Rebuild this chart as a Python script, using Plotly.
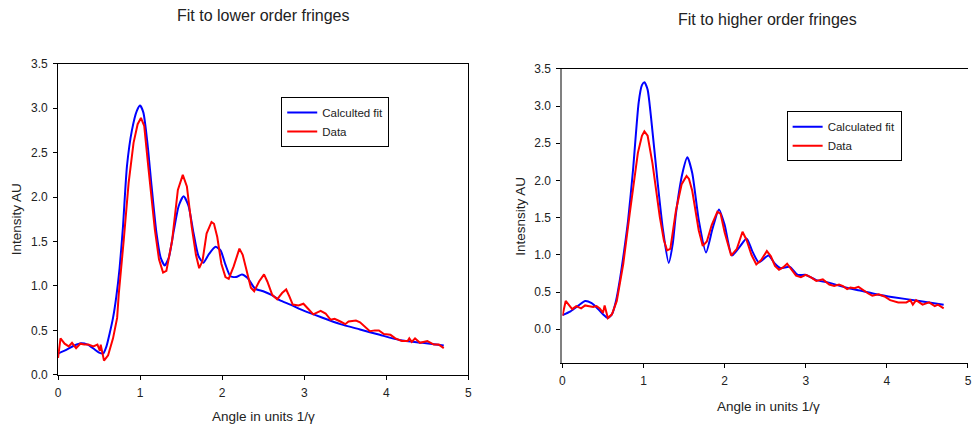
import plotly.graph_objects as go

# ---- Fit to lower order fringes ----
lower_fit_x = [0, 0.1, 0.2, 0.28, 0.36, 0.44, 0.50, 0.55, 0.59, 0.63, 0.67, 0.71, 0.75, 0.79,
               0.84, 0.90, 0.96, 1.00, 1.04, 1.09, 1.14, 1.20, 1.25, 1.30, 1.35, 1.41, 1.47,
               1.53, 1.59, 1.65, 1.71, 1.77, 1.84, 1.92, 1.98, 2.04, 2.10, 2.17, 2.24, 2.31,
               2.40, 2.50, 2.60, 2.70, 2.83, 3.00, 3.20, 3.44, 3.68, 3.92, 4.17, 4.44, 4.70]
lower_fit_y = [0.24, 0.28, 0.33, 0.355, 0.34, 0.29, 0.25, 0.24, 0.32, 0.47, 0.64, 0.88, 1.20, 1.65,
               2.35, 2.75, 2.97, 3.03, 2.95, 2.60, 2.12, 1.59, 1.32, 1.23, 1.32, 1.62, 1.90,
               2.01, 1.90, 1.60, 1.34, 1.26, 1.36, 1.44, 1.40, 1.24, 1.11, 1.10, 1.13, 1.09,
               0.97, 0.94, 0.90, 0.84, 0.79, 0.72, 0.65, 0.57, 0.51, 0.45, 0.39, 0.36, 0.33]

lower_data_x = [0, 0.03, 0.08, 0.13, 0.17, 0.22, 0.27, 0.32, 0.37, 0.43, 0.48, 0.51, 0.52, 0.56,
                0.61, 0.67, 0.72, 0.74, 0.80, 0.86, 0.92, 0.97, 1.01, 1.05, 1.10, 1.18, 1.23,
                1.28, 1.32, 1.39, 1.46, 1.52, 1.57, 1.63, 1.68, 1.72, 1.76, 1.81, 1.87, 1.90,
                1.94, 1.99, 2.04, 2.08, 2.14, 2.21, 2.25, 2.30, 2.35, 2.39, 2.45, 2.51, 2.55,
                2.61, 2.67, 2.73, 2.78, 2.82, 2.86, 2.93, 2.99, 3.05, 3.11, 3.20, 3.26, 3.32,
                3.37, 3.44, 3.50, 3.54, 3.63, 3.68, 3.72, 3.80, 3.86, 3.91, 3.97, 4.05, 4.11,
                4.19, 4.26, 4.28, 4.31, 4.35, 4.41, 4.50, 4.58, 4.64, 4.70]
lower_data_y = [0.19, 0.41, 0.35, 0.32, 0.36, 0.30, 0.35, 0.34, 0.34, 0.32, 0.34, 0.27, 0.34, 0.16,
                0.22, 0.41, 0.64, 0.91, 1.51, 2.16, 2.61, 2.82, 2.89, 2.80, 2.34, 1.63, 1.30,
                1.15, 1.17, 1.51, 2.08, 2.25, 2.12, 1.66, 1.35, 1.20, 1.28, 1.59, 1.72, 1.70,
                1.55, 1.25, 1.10, 1.08, 1.22, 1.42, 1.35, 1.15, 0.98, 0.94, 1.05, 1.13, 1.05,
                0.90, 0.85, 0.92, 0.96, 0.88, 0.79, 0.78, 0.80, 0.74, 0.68, 0.72, 0.69, 0.62,
                0.63, 0.60, 0.57, 0.60, 0.61, 0.59, 0.56, 0.49, 0.50, 0.50, 0.46, 0.45, 0.41,
                0.38, 0.38, 0.41, 0.37, 0.41, 0.36, 0.38, 0.34, 0.34, 0.30]

# ---- Fit to higher order fringes ----
higher_fit_x = [0, 0.1, 0.2, 0.28, 0.36, 0.44, 0.50, 0.56, 0.61, 0.66, 0.71, 0.76, 0.81, 0.87,
                0.94, 0.98, 1.01, 1.05, 1.09, 1.17, 1.24, 1.31, 1.36, 1.40, 1.48, 1.54, 1.60,
                1.68, 1.77, 1.85, 1.93, 2.00, 2.09, 2.18, 2.27, 2.34, 2.42, 2.54, 2.62, 2.69,
                2.80, 2.90, 3.00, 3.13, 3.27, 3.49, 3.67, 3.87, 4.08, 4.40, 4.70]
higher_fit_y = [0.19, 0.24, 0.32, 0.38, 0.35, 0.27, 0.20, 0.15, 0.20, 0.38, 0.68, 1.05, 1.47, 2.14,
                3.05, 3.28, 3.32, 3.22, 2.87, 2.01, 1.33, 0.89, 1.15, 1.56, 2.10, 2.31, 2.10,
                1.47, 1.03, 1.35, 1.61, 1.40, 0.99, 1.10, 1.22, 1.05, 0.90, 0.99, 0.88, 0.82,
                0.84, 0.73, 0.73, 0.66, 0.63, 0.56, 0.52, 0.47, 0.43, 0.38, 0.33]

higher_data_x = [0, 0.04, 0.12, 0.17, 0.23, 0.28, 0.33, 0.38, 0.42, 0.46, 0.50, 0.52, 0.56, 0.61,
                 0.67, 0.71, 0.75, 0.83, 0.93, 0.98, 1.01, 1.05, 1.11, 1.20, 1.25, 1.29, 1.33,
                 1.40, 1.47, 1.53, 1.56, 1.60, 1.68, 1.73, 1.78, 1.84, 1.91, 1.95, 2.00, 2.08,
                 2.15, 2.22, 2.27, 2.33, 2.39, 2.45, 2.52, 2.57, 2.62, 2.67, 2.72, 2.77, 2.82,
                 2.88, 2.94, 3.00, 3.06, 3.13, 3.21, 3.29, 3.35, 3.41, 3.46, 3.51, 3.55, 3.60,
                 3.65, 3.71, 3.77, 3.82, 3.90, 3.97, 4.04, 4.14, 4.24, 4.29, 4.32, 4.36, 4.44,
                 4.52, 4.59, 4.63, 4.70]
higher_data_y = [0.18, 0.38, 0.27, 0.31, 0.28, 0.32, 0.31, 0.30, 0.31, 0.28, 0.22, 0.32, 0.15, 0.20,
                 0.38, 0.65, 0.88, 1.56, 2.37, 2.60, 2.66, 2.60, 2.23, 1.51, 1.20, 1.06, 1.08,
                 1.60, 1.95, 2.06, 2.02, 1.86, 1.33, 1.12, 1.18, 1.40, 1.58, 1.55, 1.30, 0.99,
                 1.08, 1.31, 1.20, 1.00, 0.87, 0.93, 1.05, 0.98, 0.85, 0.80, 0.83, 0.88, 0.80,
                 0.72, 0.70, 0.73, 0.70, 0.65, 0.67, 0.60, 0.58, 0.60, 0.58, 0.54, 0.56, 0.55,
                 0.57, 0.52, 0.48, 0.45, 0.47, 0.44, 0.39, 0.36, 0.36, 0.39, 0.33, 0.39, 0.33,
                 0.36, 0.31, 0.33, 0.28]

FONT = "Liberation Sans, Arial, sans-serif"
TXT = "#222222"
W, H = 972, 431


def fx(px):
    """Horizontal pixel position -> paper fraction."""
    return min(1.0, max(0.0, (px - 3.0) / 0.992 / W))


def fy(py):
    """Vertical pixel position (from top) -> paper fraction."""
    return min(1.0, max(0.0, 1 - (py - 8.8) / 0.958 / H))


fig = go.Figure()

fig.add_trace(go.Scatter(x=lower_fit_x, y=lower_fit_y, mode="lines", name="Calculted fit",
                         line=dict(color="#0000ff", width=2, shape="spline", smoothing=0.6),
                         xaxis="x", yaxis="y", legend="legend"))
fig.add_trace(go.Scatter(x=lower_data_x, y=lower_data_y, mode="lines", name="Data",
                         line=dict(color="#ff0000", width=2),
                         xaxis="x", yaxis="y", legend="legend"))
fig.add_trace(go.Scatter(x=higher_fit_x, y=higher_fit_y, mode="lines", name="Calculated fit",
                         line=dict(color="#0000ff", width=2, shape="spline", smoothing=0.6),
                         xaxis="x2", yaxis="y2", legend="legend2"))
fig.add_trace(go.Scatter(x=higher_data_x, y=higher_data_y, mode="lines", name="Data",
                         line=dict(color="#ff0000", width=2),
                         xaxis="x2", yaxis="y2", legend="legend2"))

tickfont = dict(family=FONT, size=12, color=TXT)
common_x = dict(range=[0, 5], tickmode="array", tickvals=[0, 1, 2, 3, 4, 5],
                ticks="outside", ticklen=4, tickcolor="black", showgrid=False, zeroline=False,
                showline=True, linecolor="black", linewidth=1, tickfont=tickfont,
                ticklabeloverflow="allow", ticklabelstandoff=3)
common_y = dict(tickmode="array", tickvals=[0, 0.5, 1, 1.5, 2, 2.5, 3, 3.5], tickformat=".1f",
                ticks="outside", ticklen=4, tickcolor="black", showgrid=False, zeroline=False,
                showline=True, linewidth=1, tickfont=tickfont, ticklabelstandoff=3)

fig.update_layout(
    width=W, height=H,
    margin=dict(l=0, r=0, t=0, b=0),
    paper_bgcolor="white", plot_bgcolor="white",
    font=dict(family=FONT, color=TXT),
    xaxis=dict(common_x, domain=[fx(58), fx(468)], anchor="y", mirror=True),
    yaxis=dict(common_y, range=[0, 3.5], domain=[fy(373), fy(65)], anchor="x",
               linecolor="black", mirror=True),
    xaxis2=dict(common_x, domain=[fx(562), 1.0], anchor="y2", mirror=True),
    yaxis2=dict(common_y, range=[-0.45, 3.5], domain=[fy(361), fy(70)], anchor="x2",
                linecolor="#808080", linewidth=2, mirror=False),
    legend=dict(x=fx(281), y=fy(98), xanchor="left", yanchor="top",
                bordercolor="black", borderwidth=1, bgcolor="white",
                font=dict(family=FONT, size=11.5, color=TXT), itemwidth=30),
    legend2=dict(x=fx(786), y=fy(112), xanchor="left", yanchor="top",
                 bordercolor="black", borderwidth=1, bgcolor="white",
                 font=dict(family=FONT, size=11.5, color=TXT), itemwidth=30),
)

annotations = [
    dict(text="Fit to lower order fringes", x=fx(263), y=fy(17), font=dict(size=16)),
    dict(text="Fit to higher order fringes", x=fx(767), y=fy(21), font=dict(size=16)),
    dict(text="Angle in units 1/γ", x=fx(263), y=fy(414), font=dict(size=13.5)),
    dict(text="Angle in units 1/γ", x=fx(768), y=fy(404), font=dict(size=13.5)),
    dict(text="Intensity AU", x=fx(16), y=fy(219), textangle=-90, font=dict(size=13.5)),
    dict(text="Intesnsity AU", x=fx(520), y=fy(216), textangle=-90, font=dict(size=13.5)),
]
for a in annotations:
    a.update(xref="paper", yref="paper", xanchor="center", yanchor="middle", showarrow=False)
    a["font"].update(family=FONT, color=TXT)
    fig.add_annotation(**a)

fig.write_html("out.html")
